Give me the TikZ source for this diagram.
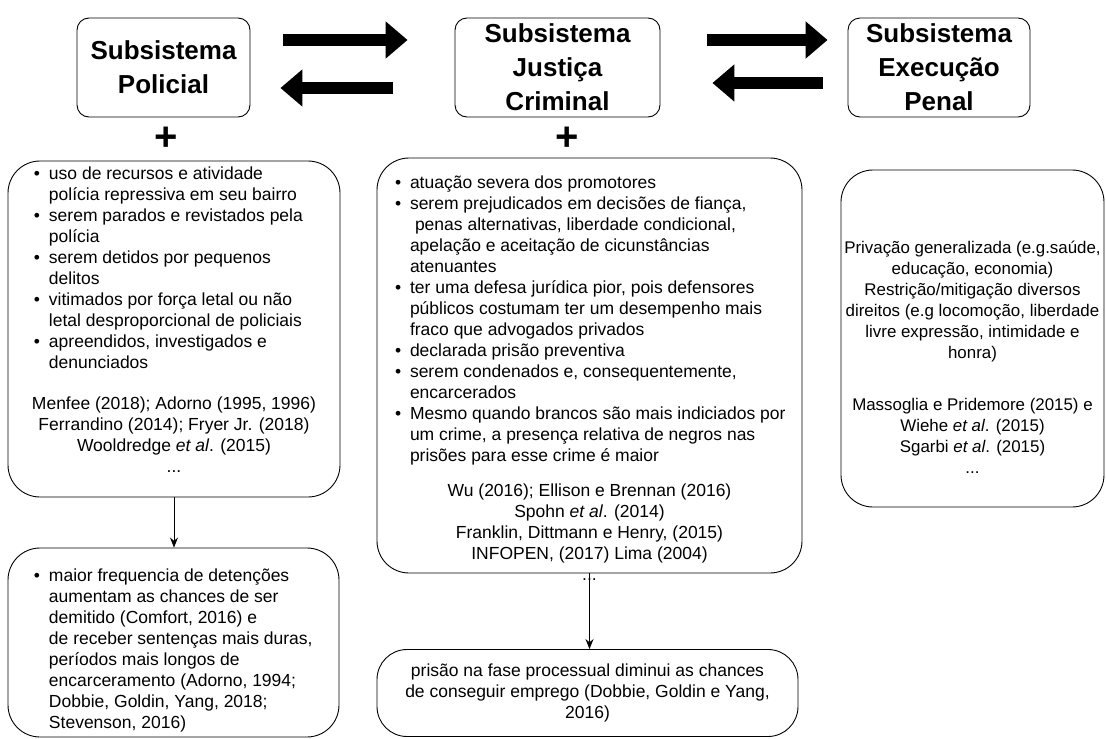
\documentclass[tikz,border=0pt]{standalone}
\usepackage{fontspec}
\setmainfont{Liberation Sans}
\usetikzlibrary{arrows.meta,positioning}

\newcommand{\bodysize}{\fontsize{17.5}{21}\selectfont}
\newcommand{\titlesize}{\fontsize{26}{34}\selectfont\bfseries}
% bullet item with hanging indent
\newcommand{\itm}[1]{\par\noindent\hangindent=23pt\hangafter=1\makebox[23pt][l]{\hspace{8pt}\textbullet}#1\par}

\tikzset{
  titlebox/.style={draw, line width=0.9pt, rounded corners=12pt, align=center, font=\titlesize},
  listbox/.style={draw, line width=0.9pt, rounded corners=32pt, inner ysep=0pt, font=\bodysize},
  bigarrow/.style={line width=12pt, -{Triangle[length=22pt,width=36pt]}},
  thinarrow/.style={line width=0.9pt, -{Stealth[length=10pt,width=8pt]}},
  plus/.style={font=\fontsize{40}{40}\selectfont\bfseries, inner sep=0pt}
}

\begin{document}
\begin{tikzpicture}[x=1pt, y=-1pt]
  \useasboundingbox (0,0) rectangle (1106,739);

  % subsystems
  \node[titlebox, minimum width=173pt, minimum height=99pt] (polTitle) at (163.5,67.5) {Subsistema\\Policial};
  \node[titlebox, minimum width=205pt, minimum height=99pt] (jusTitle) at (557.5,67.5) {Subsistema\\Justiça\\Criminal};
  \node[titlebox, minimum width=182pt, minimum height=99pt] (exeTitle) at (939,67.5) {Subsistema\\Execução\\Penal};

  \draw[bigarrow] ([xshift=33pt,yshift=27.5pt]polTitle.east) -- ([xshift=-47pt,yshift=27.5pt]jusTitle.west);
  \draw[bigarrow] ([xshift=-62pt,yshift=-20.5pt]jusTitle.west) -- ([xshift=30pt,yshift=-20.5pt]polTitle.east);
  \draw[bigarrow] ([xshift=47pt,yshift=27.5pt]jusTitle.east) -- ([xshift=-20pt,yshift=27.5pt]exeTitle.west);
  \draw[bigarrow] ([xshift=-25pt,yshift=-15.5pt]exeTitle.west) -- ([xshift=52pt,yshift=-15.5pt]jusTitle.east);

  \node[plus] (plusPol) at (166,139) {+};
  \node[plus] (plusJus) at (567,139) {+};

  % effects
  \node[listbox, inner xsep=18pt] (polBox) at (174,329) {%
    \begin{minipage}[c][336pt][t]{296pt}\raggedright
      \vspace*{6pt}
      \itm{uso de recursos e atividade\newline polícia repressiva em seu bairro}
      \itm{serem parados e revistados pela\newline polícia}
      \itm{serem detidos por pequenos\newline delitos}
      \itm{vitimados por força letal ou não\newline letal desproporcional de policiais}
      \itm{apreendidos, investigados e\newline denunciados}
      \vspace{20pt}
      {\centering Menfee (2018); Adorno (1995, 1996)\\
      Ferrandino (2014); Fryer Jr. (2018)\\
      Wooldredge \textit{et al}. (2015)\\
      ...\par}
    \end{minipage}};

  \node[listbox, inner xsep=10pt] (jusBox) at (589.5,365.5) {%
    \begin{minipage}[c][415pt][t]{405pt}\raggedright
      \vspace*{18pt}
      \itm{atuação severa dos promotores}
      \itm{serem prejudicados em decisões de fiança,\newline\hspace*{5pt}penas alternativas, liberdade condicional,\newline apelação e aceitação de cicunstâncias\newline atenuantes}
      \itm{ter uma defesa jurídica pior, pois defensores\newline públicos costumam ter um desempenho mais\newline fraco que advogados privados}
      \itm{declarada prisão preventiva}
      \itm{serem condenados e, consequentemente,\newline encarcerados}
      \itm{Mesmo quando brancos são mais indiciados por\newline um crime, a presença relativa de negros nas\newline prisões para esse crime é maior}
      \vspace{14pt}
      {\centering Wu (2016); Ellison e Brennan (2016)\\
      Spohn \textit{et al}. (2014)\\
      Franklin, Dittmann e Henry, (2015)\\
      INFOPEN, (2017) Lima (2004)\\
      ...\par}
    \end{minipage}};

  \node[listbox, inner xsep=2pt, font=\fontsize{16.9}{21}\selectfont] (exeBox) at (972.5,338.5) {%
    \begin{minipage}[c][337pt][t]{259pt}\centering
      \vspace*{71pt}
      \mbox{Privação generalizada (e.g.saúde,}\\
      educação, economia)\\
      Restrição/mitigação diversos\\
      \mbox{direitos (e.g locomoção, liberdade}\\
      livre expressão, intimidade e\\
      honra)\par
      \vspace{31pt}
      Massoglia e Pridemore (2015) e\\
      Wiehe \textit{et al}. (2015)\\
      Sgarbi \textit{et al}. (2015)\\
      ...\par
    \end{minipage}};

  % consequences
  \node[listbox, inner xsep=18pt] (polCons) at (173.5,642.5) {%
    \begin{minipage}[c][189pt][t]{295pt}\raggedright
      \vspace*{21pt}
      \itm{maior frequencia de detenções\newline aumentam as chances de ser\newline demitido (Comfort, 2016) e\newline de receber sentenças mais duras,\newline períodos mais longos de\newline encarceramento (Adorno, 1994;\newline Dobbie, Goldin, Yang, 2018;\newline Stevenson, 2016)}
    \end{minipage}};

  \node[listbox, rounded corners=30pt, align=center, minimum width=421pt, minimum height=87pt] (jusCons) at (587.5,693)
    {prisão na fase processual diminui as chances\\de conseguir emprego (Dobbie, Goldin e Yang,\\2016)};

  \draw[thinarrow] (polBox.south) -- (polBox.south |- polCons.north);
  \draw[thinarrow] (jusBox.south) -- (jusBox.south |- jusCons.north);
\end{tikzpicture}
\end{document}
